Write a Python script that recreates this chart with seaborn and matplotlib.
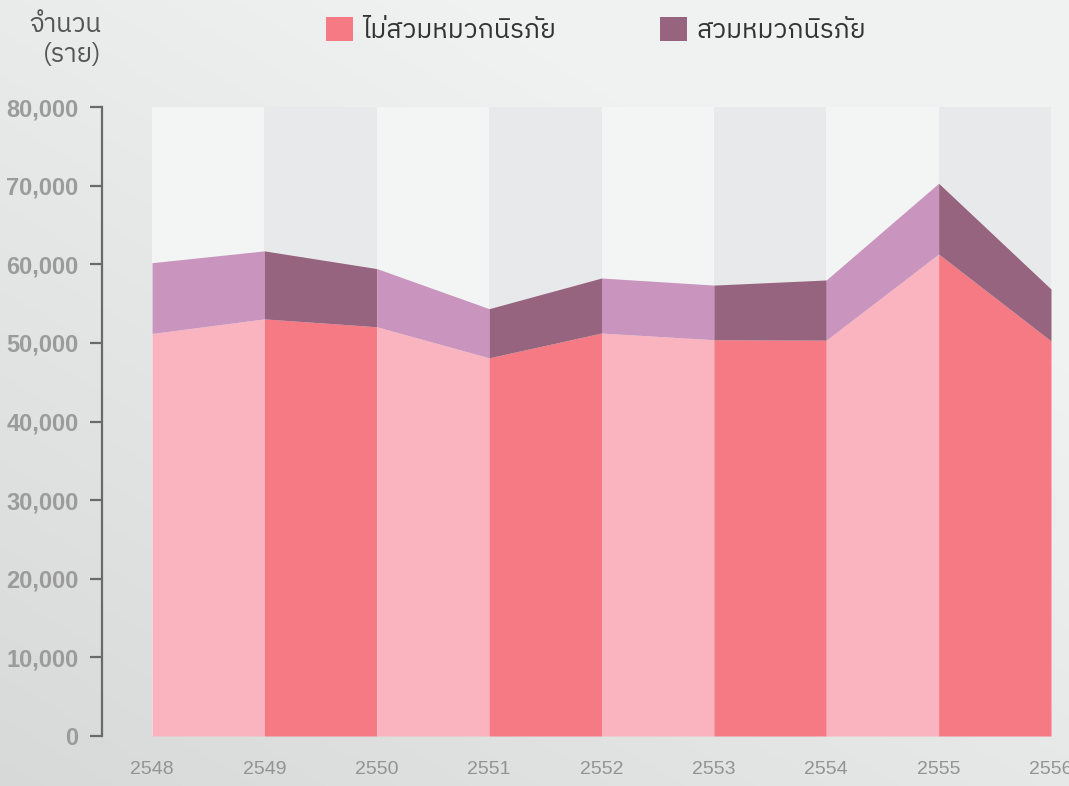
import numpy as np
import matplotlib
matplotlib.use("Agg")
import matplotlib.pyplot as plt
import seaborn as sns
from matplotlib import font_manager
from matplotlib.patches import Patch

# -----------------------------------
# Data
# -----------------------------------

years = [2548, 2549, 2550, 2551, 2552, 2553, 2554, 2555, 2556]
no_helmet = [51200, 53050, 52050, 48100, 51250, 50400, 50350, 61300, 50250]
helmet = [9000, 8650, 7400, 6250, 7000, 6950, 7650, 9000, 6600]

y_ticks = [0, 10000, 20000, 30000, 40000, 50000, 60000, 70000, 80000]

label_no_helmet = "ไม่สวมหมวกนิรภัย"
label_helmet = "สวมหมวกนิรภัย"
y_title = "จำนวน\n(ราย)"

# alternating colours per year interval
pink = ["#f9b4bf", "#f57a84"]
purple = ["#c994bd", "#96647f"]
column_bg = ["#f3f4f4", "#e8e9ea"]


# -----------------------------------
# Fonts
# -----------------------------------

def find_thai_font():
    try:
        from fontTools.ttLib import TTFont
    except ImportError:
        return "DejaVu Sans"
    entries = sorted(
        font_manager.fontManager.ttflist,
        key=lambda f: ("thai" not in f.name.lower(), f.name)
    )
    for entry in entries:
        try:
            font = TTFont(entry.fname, fontNumber=0, lazy=True)
            cmap = font.getBestCmap()
            if cmap and 0x0E2A in cmap and 0x0E21 in cmap:
                return entry.name
        except Exception:
            continue
    return "DejaVu Sans"


sns.set_theme(style="white")

thai_font = find_thai_font()
plt.rcParams["font.family"] = [thai_font, "DejaVu Sans"]

installed = {f.name for f in font_manager.fontManager.ttflist}
if "Liberation Sans Narrow" in installed:
    ytick_font = font_manager.FontProperties(family="Liberation Sans Narrow",
                                             weight="bold", size=20)
    xtick_font = font_manager.FontProperties(family="Liberation Sans Narrow", size=16)
else:
    ytick_font = font_manager.FontProperties(family=["Liberation Sans", "DejaVu Sans"],
                                             weight="bold", size=17)
    xtick_font = font_manager.FontProperties(family=["Liberation Sans", "DejaVu Sans"],
                                             size=14)

# -----------------------------------
# Figure + gradient background
# -----------------------------------

W, H = 1069, 786
fig = plt.figure(figsize=(W / 100, H / 100), dpi=100)

bg_ax = fig.add_axes([0, 0, 1, 1], zorder=-10)
gx, gy = np.meshgrid(np.linspace(0, 1, 200), np.linspace(0, 1, 200))
shade = 0.55 * gy + 0.45 * gx  # lighter toward top-right
light = np.array([0.945, 0.949, 0.949])
dark = np.array([0.845, 0.850, 0.850])
grad = dark + (light - dark) * np.clip(shade * 1.3, 0, 1)[..., None]
bg_ax.imshow(grad, origin="lower", extent=[0, 1, 0, 1], aspect="auto")
bg_ax.axis("off")

ax = fig.add_axes([152 / W, 1 - 736 / H, (1051 - 152) / W, (736 - 107) / H])
ax.set_facecolor("none")

# column backgrounds
for i in range(len(years) - 1):
    ax.axvspan(years[i], years[i + 1], color=column_bg[i % 2], lw=0, zorder=0)

# stacked areas, drawn interval by interval
total = [a + b for a, b in zip(no_helmet, helmet)]
for i in range(len(years) - 1):
    xs = years[i:i + 2]
    ax.fill_between(xs, 0, no_helmet[i:i + 2], color=pink[i % 2], lw=0, zorder=2)
    ax.fill_between(xs, no_helmet[i:i + 2], total[i:i + 2],
                    color=purple[i % 2], lw=0, zorder=2)

ax.set_xlim(years[0], years[-1])
ax.set_ylim(0, 80000)

# -----------------------------------
# Axes styling
# -----------------------------------

sns.despine(ax=ax, top=True, right=True, bottom=True, left=False)
ax.spines["left"].set_position(("outward", 36))  # 50 px left of the data
ax.spines["left"].set_color("#6a6a6a")
ax.spines["left"].set_linewidth(1.6)

ax.set_yticks(y_ticks)
ax.set_yticklabels([f"{v:,}" for v in y_ticks], color="#9b9b9b")
for t in ax.get_yticklabels():
    t.set_fontproperties(ytick_font)
ax.tick_params(axis="y", direction="out", length=9, width=1.6,
               color="#6a6a6a", pad=8, left=True)

ax.set_xticks(years)
ax.set_xticklabels([str(y) for y in years], color="#939393")
for t in ax.get_xticklabels():
    t.set_fontproperties(xtick_font)
ax.tick_params(axis="x", length=0, pad=18)

ax.set_xlabel("")
ax.set_ylabel("")
ax.grid(False)

# y title
fig.text(101 / W, 1 - 40 / H, y_title, ha="right", va="center",
         multialignment="right", fontsize=18.5, color="#555555",
         linespacing=1.25)

# legend
handles = [
    Patch(facecolor=pink[1], edgecolor="none", label=label_no_helmet),
    Patch(facecolor=purple[1], edgecolor="none", label=label_helmet),
]
fig.legend(handles=handles, loc="center", bbox_to_anchor=(596 / W, 1 - 30 / H),
           ncol=2, frameon=False, fontsize=19, handlelength=1.02,
           handleheight=1.02, handletextpad=0.34, columnspacing=3.95,
           labelcolor="#333333", borderpad=0, borderaxespad=0)

fig.savefig("out.png", dpi=100)
